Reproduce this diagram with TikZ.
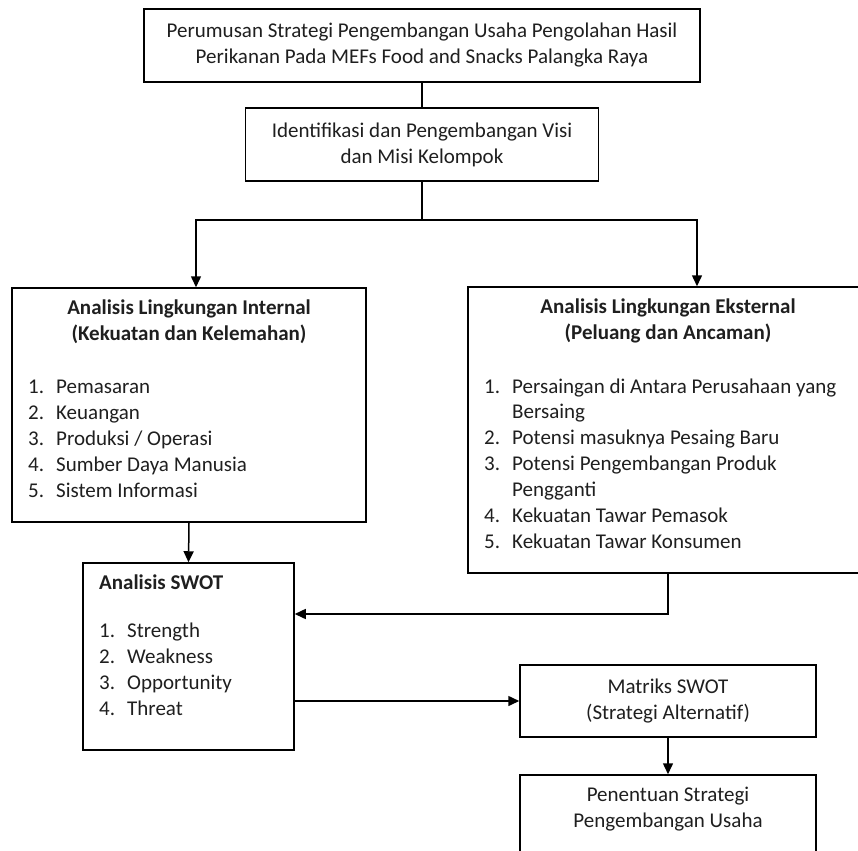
\documentclass[tikz,border=0pt]{standalone}
\usepackage{fontspec}
\setmainfont{Carlito}
\usetikzlibrary{positioning,arrows.meta}

\newcommand{\teks}{\fontsize{21}{26}\selectfont}
\tikzset{
  box/.style={draw, line width=1.5pt, rectangle, inner sep=0pt},
  head/.style={inner sep=0pt, align=center, font=\teks\bfseries},
  item/.style={inner sep=0pt, anchor=base west},
  link/.style={line width=1.5pt},
  arr/.style={link, -{Triangle[length=11pt,width=10pt]}},
}

\begin{document}
\begin{tikzpicture}[x=1pt, y=-1pt, font=\teks, text=black!88]
  \clip (0,0) rectangle (858,850);
  \fill[white] (0,0) rectangle (858,850);

  % boxes
  \node[box, minimum width=556, minimum height=73, align=center] (judul) at (422,45.5)
    {Perumusan Strategi Pengembangan Usaha Pengolahan Hasil\\Perikanan Pada MEFs Food and Snacks Palangka Raya};
  \node[box, minimum width=353, minimum height=73, align=center] (visi) at (422,144.5)
    {Identifikasi dan Pengembangan Visi\\dan Misi Kelompok};
  \node[box, minimum width=354, minimum height=234] (internal) at (189,405) {};
  \node[box, minimum width=402, minimum height=286] (eksternal) at (669,430) {};
  \node[box, minimum width=211, minimum height=187] (swot) at (188.5,656.5) {};
  \node[box, minimum width=296, minimum height=72, align=center] (matriks) at (668,701)
    {Matriks SWOT\\(Strategi Alternatif)};
  \node[box, minimum width=296, minimum height=120] (penentuan) at (668,835) {};

  % headings
  \node[head] (internalJudul) at (189,322) {Analisis Lingkungan Internal\\(Kekuatan dan Kelemahan)};
  \node[head] (eksternalJudul) at (668,321) {Analisis Lingkungan Eksternal\\(Peluang dan Ancaman)};
  \node[head, anchor=base west] (swotJudul) at (99,589) {Analisis SWOT};
  \node[inner sep=0pt, align=center] (penentuanTeks) at (668,809) {Penentuan Strategi\\Pengembangan Usaha};

  % lists
  \foreach \t [count=\i] in {Pemasaran, Keuangan, Produksi / Operasi, Sumber Daya Manusia, Sistem Informasi}
  {
    \node[item] (intNo\i) at (28,{393+26*(\i-1)}) {\i.};
    \node[item] (intIsi\i) at (56,{393+26*(\i-1)}) {\t};
  }
  \foreach \n/\k in {1/0, 2/2, 3/3, 4/5, 5/6}
    \node[item] (eksNo\n) at (484,{393+25.9*\k}) {\n.};
  \foreach \t [count=\i from 0] in {Persaingan di Antara Perusahaan yang, Bersaing,
      Potensi masuknya Pesaing Baru, Potensi Pengembangan Produk, Pengganti,
      Kekuatan Tawar Pemasok, Kekuatan Tawar Konsumen}
    \node[item] (eksIsi\i) at (512,{393+25.9*\i}) {\t};
  \foreach \t [count=\i] in {Strength, Weakness, Opportunity, Threat}
  {
    \node[item] (swotNo\i) at (99,{637+26*(\i-1)}) {\i.};
    \node[item] (swotIsi\i) at (127,{637+26*(\i-1)}) {\t};
  }

  % connectors
  \coordinate (cabang) at (422,220);
  \coordinate (belok) at (668,614);
  \draw[link] (judul.south) -- (visi.north);
  \draw[link] (visi.south) -- (cabang);
  \draw[arr] (cabang) -| ([xshift=7pt]internal.north);
  \draw[arr] (cabang) -| ([xshift=28pt]eksternal.north);
  \draw[arr] (internal.south) -- (swot.north);
  \draw[arr] (eksternal.south -| belok) -- (belok) -- (swot.east |- belok);
  \draw[arr] (swot.east |- matriks.west) -- (matriks.west);
  \draw[arr] (matriks) -- (penentuan);
\end{tikzpicture}
\end{document}
